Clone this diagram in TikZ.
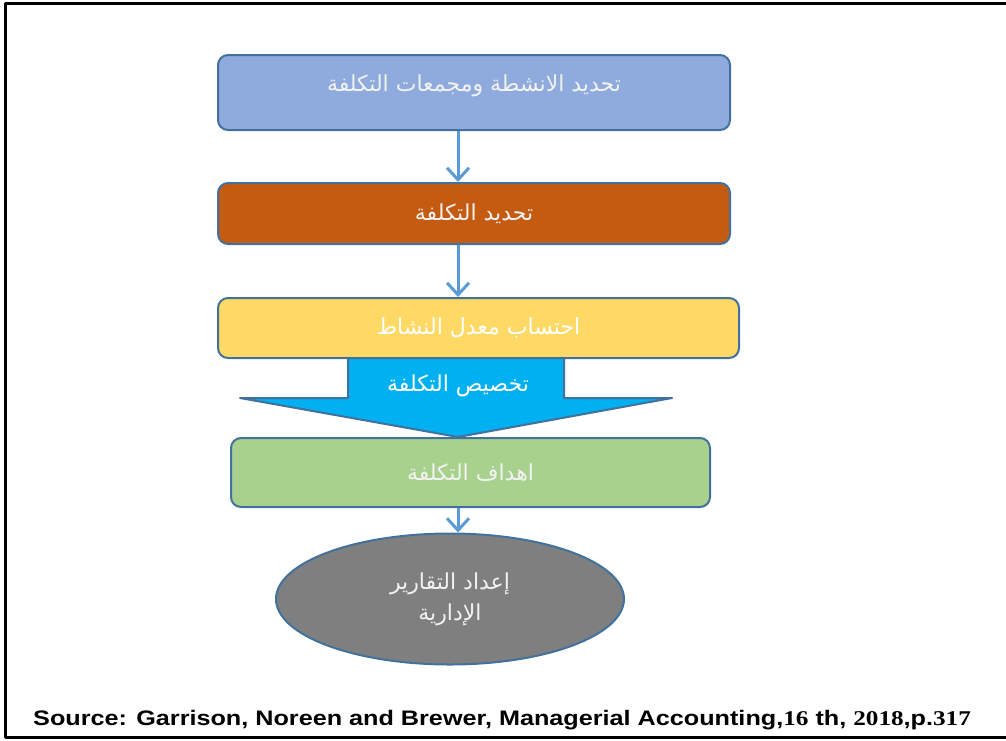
\documentclass[tikz,border=0pt]{standalone}
\usepackage{fontspec}
\usetikzlibrary{arrows.meta,shapes.geometric}
\TeXXeTstate=1
\newfontfamily\arabicfont[Script=Arabic]{DejaVu Sans}
\newfontfamily\srcsans{Liberation Sans}
\newfontfamily\srcserif{Liberation Serif}

\definecolor{edgeblue}{HTML}{41719C}
\definecolor{flowblue}{HTML}{5B9BD5}
\definecolor{stepone}{HTML}{8FAADC}
\definecolor{steptwo}{HTML}{C55A11}
\definecolor{stepthree}{HTML}{FFD966}
\definecolor{stepfour}{HTML}{A9D18E}
\definecolor{allocfill}{HTML}{00B0F0}
\definecolor{reportfill}{HTML}{7F7F7F}
\definecolor{softwhite}{HTML}{F2F2F2}

\tikzset{
  stagebox/.style={draw=edgeblue, line width=2pt, rounded corners=10pt,
    inner sep=0pt, text=softwhite, font=\arabicfont\fontsize{22}{26}\selectfont},
  flowarrow/.style={draw=flowblue, line width=3pt,
    -{Straight Barb[length=12pt,width=22pt]}}
}

\begin{document}
\begin{tikzpicture}[x=1pt, y=-1pt, line join=round]
\useasboundingbox (0,0) rectangle (1006,740);

% ---------- outer frame ----------
\draw[line width=3pt] (1012,3) -- (5,3) -- (5,737) -- (1012,737);

\coordinate (axis) at (458,0);

% ---------- allocation block arrow ----------
\draw[edgeblue, line width=2pt, fill=allocfill]
  (348,352) -- (348,398) -- (240,398) -- (458,437) -- (672,398)
  -- (564,398) -- (564,352) -- cycle;
\node[text=white, font=\arabicfont\fontsize{22}{26}\selectfont]
  (alloc) at (458,386) {\beginR تخصيص التكلفة\endR};

% ---------- stages ----------
\node[stagebox, fill=stepone, minimum width=512pt, minimum height=75pt,
  text depth=18pt] (define) at (474,92.5) {\beginR تحديد الانشطة ومجمعات التكلفة\endR};
\node[stagebox, fill=steptwo, minimum width=512pt, minimum height=61pt]
  (cost) at (474,213.5) {\beginR تحديد التكلفة\endR};
\node[stagebox, fill=stepthree, text=white, minimum width=521pt, minimum height=60pt]
  (rate) at (478.5,328) {\beginR احتساب معدل النشاط\endR};
\node[stagebox, fill=stepfour, minimum width=479pt, minimum height=69pt]
  (objects) at (470.5,472.5) {\beginR اهداف التكلفة\endR};

% ---------- reports ----------
\node[ellipse, draw=edgeblue, line width=2pt, fill=reportfill, inner sep=0pt,
  minimum width=348pt, minimum height=131pt, text=softwhite, align=center,
  font=\arabicfont\fontsize{22}{31}\selectfont]
  (reports) at (450,599) {\beginR إعداد التقارير\endR\\\beginR الإدارية\endR};

% ---------- connectors ----------
\draw[flowarrow] (define.south -| axis) -- (cost.north -| axis);
\draw[flowarrow] (cost.south -| axis) -- (rate.north -| axis);
\draw[flowarrow] (objects.south -| axis) -- (reports.north -| axis);

% ---------- source ----------
\node[anchor=base west, inner sep=0pt, font=\bfseries\fontsize{21}{25}\selectfont]
  (source) at (33,725)
  {\scalebox{1.2}[1]{\srcsans Source: Garrison, Noreen and Brewer, Managerial Accounting,{\srcserif 16}
   th, {\srcserif 2018},p.{\srcserif 317}}};

\end{tikzpicture}
\end{document}
